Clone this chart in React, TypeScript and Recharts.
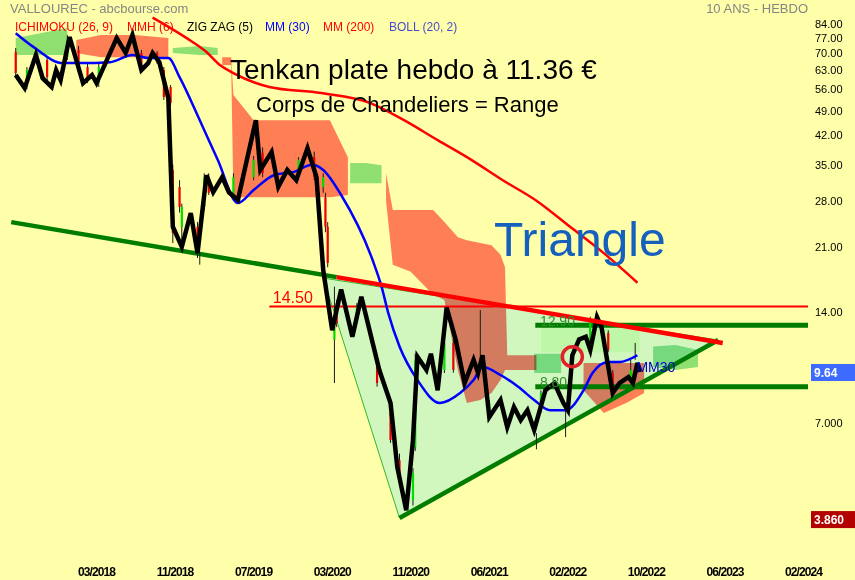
import React from 'react';
import { ComposedChart, Line, Area, XAxis, YAxis, CartesianGrid, ReferenceLine, ReferenceDot } from 'recharts';

// axes
const xTickWeeks = [0, 35, 70, 105, 140, 175, 210, 245, 280, 315];
const xTickLabels = ['03/2018', '11/2018', '07/2019', '03/2020', '11/2020', '06/2021', '02/2022', '10/2022', '06/2023', '02/2024'];
const yTicks = [84, 77, 70, 63, 56, 49, 42, 35, 28, 21, 14, 7];

// zig zag (5) pivots, weeks from 03/2018
const zzWeeks = [-36, -32, -27, -24, -20, -18, -16, -12, -6, -2, 0, 9, 13, 16, 20, 23, 25, 28, 32, 34, 38, 42, 45, 49, 52, 56, 59, 63, 67, 71, 73, 78, 81, 85, 89, 94, 98, 101, 105, 109, 114, 118, 126, 131, 134, 138, 141, 143, 147, 149, 152, 156, 160, 164, 168, 170, 172, 175, 180, 183, 186, 189, 192, 195, 200, 204, 208, 210, 212, 215, 218, 220, 223, 225, 230, 233, 237, 239, 241, 242];
const zzValues = [61.2, 56.4, 69.3, 60.0, 56.8, 63.1, 59.3, 77.5, 58.2, 61.2, 58.2, 77.0, 70.2, 78.5, 63.1, 65.9, 70.2, 66.3, 53.0, 23.8, 21.0, 25.9, 20.2, 32.8, 29.5, 32.4, 29.5, 28.1, 36.1, 46.2, 33.9, 37.9, 30.5, 33.9, 31.8, 38.8, 32.4, 18.2, 12.5, 16.1, 12.0, 15.4, 9.76, 7.95, 5.34, 4.08, 6.31, 10.6, 9.76, 10.8, 8.6, 14.4, 11.8, 9.0, 10.4, 9.58, 10.7, 7.28, 8.1, 6.84, 7.75, 7.15, 7.6, 6.72, 8.6, 9.0, 7.95, 7.6, 10.7, 11.8, 12.0, 11.06, 13.57, 12.75, 8.46, 9.0, 9.34, 9.0, 10.2, 9.64];

// weekly candles that show beside the zig zag
const candleWeeks = [-36, -31, -22, -13, -8, -4, 1, 20, 27, 30, 33, 34, 37, 38, 45, 48, 50, 61, 70, 74, 90, 97, 101, 102, 103, 106, 107, 116, 125, 131, 135, 141, 142, 155, 159, 175, 198, 211, 220, 228, 230, 238];
const candleOpen = [70.6, 56.8, 67.2, 68.4, 71.5, 64.3, 58.2, 70.2, 70.2, 63.1, 56.8, 33.9, 30.5, 23.8, 23.8, 26.9, 32.4, 28.6, 32.4, 37.7, 32.4, 36.7, 30.5, 28.6, 23.8, 11.8, 14.8, 13.32, 10.4, 7.47, 5.57, 4.35, 6.04, 9.76, 11.55, 7.28, 7.6, 8.6, 11.3, 12.28, 9.58, 9.17];
const candleClose = [62.0, 63.1, 60.4, 76.1, 63.1, 59.3, 64.3, 63.1, 66.3, 53.4, 51.4, 22.9, 26.9, 26.9, 20.6, 32.4, 29.4, 32.4, 36.1, 33.2, 36.1, 32.4, 32.4, 23.8, 19.0, 12.75, 13.07, 14.44, 9.0, 6.31, 5.01, 5.14, 10.4, 11.55, 9.76, 7.95, 8.46, 9.76, 13.32, 11.06, 8.6, 9.76];
const candleHigh = [72.4, 64.3, 68.4, 78.5, 73.3, 65.9, 65.9, 71.5, 71.0, 64.3, 57.5, 35.0, 31.8, 27.5, 24.5, 33.2, 33.2, 33.2, 37.0, 39.0, 36.7, 38.0, 33.2, 29.4, 24.5, 16.4, 15.1, 14.8, 10.7, 7.6, 5.8, 5.3, 10.8, 12.0, 11.8, 8.1, 8.6, 10.0, 13.6, 12.5, 9.76, 10.4];
const candleLow = [60.4, 56.0, 59.3, 67.2, 62.0, 58.2, 56.8, 62.0, 65.5, 52.4, 50.5, 21.5, 26.0, 21.5, 19.6, 26.4, 29.0, 28.0, 31.8, 32.4, 31.8, 31.8, 29.4, 23.0, 18.5, 9.0, 12.75, 13.07, 8.8, 6.2, 4.9, 4.2, 5.9, 9.58, 9.6, 7.15, 7.47, 8.46, 11.06, 10.9, 8.46, 9.0];
const wickWeeks = [171, 209, 240, 196, 46];
const wickHigh = [14.17, 7.6, 11.55, 6.59, 20.2];
const wickLow = [9.76, 6.43, 10.4, 5.96, 18.8];

// MM (30)
const mm30Weeks = [-36, -28, -15, -7, 6, 16, 23, 32, 37, 46, 54, 63, 70, 79, 88, 96, 101, 109, 123, 127, 130, 135, 143, 153, 162, 168, 172, 180, 188, 195, 202, 209, 217, 221, 228, 233, 241];
const mm30Values = [79.4, 72.8, 65.9, 65.9, 66.3, 69.3, 68.0, 68.0, 60.4, 46.2, 36.1, 27.6, 29.9, 32.8, 33.5, 35.0, 33.9, 29.0, 19.35, 16.4, 13.9, 11.3, 9.17, 7.95, 8.46, 9.17, 9.94, 9.46, 8.78, 8.1, 7.6, 7.6, 8.6, 9.58, 10.26, 10.26, 10.7];

// MM (200)
const mm200Weeks = [25, 40, 49, 55, 61, 77, 100, 122, 137, 152, 167, 181, 196, 211, 226, 241];
const mm200Values = [87.5, 77.1, 70.6, 65.1, 61.9, 56.8, 54.7, 51.4, 46.2, 40.8, 36.1, 31.8, 28.0, 23.8, 20.2, 16.8];

// ichimoku cloud pieces (weeks, low edge, high edge)
const g1Weeks = [-36, -25, -13];
const g1Low = [69.3, 69.3, 69.3];
const g1High = [77.0, 79.4, 82.0];
const r1Weeks = [-9, 2, 17, 32];
const r1Low = [70.2, 68.4, 68.4, 68.4];
const r1High = [76.1, 78.5, 78.5, 77.0];
const g2Weeks = [34, 46, 54];
const g2Low = [70.2, 69.3, 69.3];
const g2High = [72.4, 73.3, 72.4];
const r2Weeks = [56, 60, 61, 70, 104, 112];
const r2Low = [65.1, 65.1, 28.6, 28.6, 28.6, 29.0];
const r2High = [68.4, 68.4, 54.0, 46.2, 46.2, 36.7];
const g3Weeks = [113, 120, 127];
const g3Low = [31.2, 31.2, 31.2];
const g3High = [35.4, 35.4, 34.9];
const r3Weeks = [129, 132, 140, 150, 155, 161, 165, 171, 176, 180, 182, 183, 196];
const r3Low = [28.0, 18.8, 18.0, 15.6, 15.1, 9.76, 7.95, 8.1, 8.46, 9.17, 9.76, 9.76, 9.76];
const r3High = [33.2, 26.4, 26.4, 26.4, 24.5, 22.3, 21.9, 21.5, 21.2, 20.0, 18.5, 10.7, 10.7];
const g4Weeks = [195, 207];
const g4Low = [9.58, 9.58];
const g4High = [10.8, 10.8];
const lgWeeks = [198, 242];
const lgLow = [10.9, 10.9];
const lgHigh = [12.75, 12.75];
const r5Weeks = [217, 226, 236, 244];
const r5Low = [8.6, 7.47, 7.95, 8.46];
const r5High = [10.2, 10.2, 10.2, 10.2];
const g5Weeks = [248, 258, 268];
const g5Low = [9.94, 9.76, 9.94];
const g5High = [11.3, 11.4, 11.06];

// triangle
const triWeeks = [101, 135, 277];
const triLow = [17.3, 3.885, 11.76];
const triHigh = [17.3, 16.0, 11.76];
const longGreenWeeks = [-38, 107];
const longGreenValues = [24.5, 17.4];
const redTopWeeks = [107, 279];
const redTopValues = [17.4, 11.55];
const greenBottomWeeks = [135, 277];
const greenBottomValues = [3.885, 11.76];
const edgeTopWeeks = [101, 277];
const edgeTopValues = [17.3, 11.76];
const edgeLeftWeeks = [101, 135];
const edgeLeftValues = [17.3, 3.885];

// levels
const level1450Weeks = [77, 317];
const level1290Weeks = [195.5, 317];
const level880Weeks = [195.5, 317];
const lastClose = 9.64;
const periodLow = 3.86;

const pts = (w: number[], v: number[]) => w.map((x, i) => ({ w: x, v: v[i] }));
const flat = (w: number[], value: number) => w.map((x) => ({ w: x, v: value }));
const band = (w: number[], lo: number[], hi: number[]) => w.map((x, i) => ({ w: x, r: [lo[i], hi[i]] }));
// vertical pieces separated by gaps, for candle bodies and wicks
const sticks = (w: number[], a: number[], b: number[], keep: (i: number) => boolean) =>
  w.flatMap((x, i) => (keep(i) ? [{ w: x, v: a[i] }, { w: x, v: b[i] }, { w: x, v: null }] : []));

const redBodies = sticks(candleWeeks, candleOpen, candleClose, (i) => candleClose[i] < candleOpen[i]);
const greenBodies = sticks(candleWeeks, candleOpen, candleClose, (i) => candleClose[i] >= candleOpen[i]);
const wicks = [
  ...sticks(candleWeeks, candleLow, candleHigh, () => true),
  ...sticks(wickWeeks, wickLow, wickHigh, () => true),
];

const SALMON = '#FF7F7F';
const CLOUD_GREEN = '#90E0A8';
const DARK_GREEN = '#007D00';

const cloudPieces = [
  { key: 'g1', data: band(g1Weeks, g1Low, g1High), fill: CLOUD_GREEN },
  { key: 'r1', data: band(r1Weeks, r1Low, r1High), fill: SALMON },
  { key: 'g2', data: band(g2Weeks, g2Low, g2High), fill: CLOUD_GREEN },
  { key: 'r2', data: band(r2Weeks, r2Low, r2High), fill: SALMON },
  { key: 'g3', data: band(g3Weeks, g3Low, g3High), fill: CLOUD_GREEN },
  { key: 'r3', data: band(r3Weeks, r3Low, r3High), fill: SALMON },
  { key: 'lg', data: band(lgWeeks, lgLow, lgHigh), fill: '#E6FFE1' },
  { key: 'g4', data: band(g4Weeks, g4Low, g4High), fill: CLOUD_GREEN },
  { key: 'r5', data: band(r5Weeks, r5Low, r5High), fill: SALMON },
  { key: 'g5', data: band(g5Weeks, g5Low, g5High), fill: CLOUD_GREEN },
];

const TextLabel = (props: any) => {
  const { viewBox, text, color, size, dy = 0 } = props;
  if (!viewBox) return null;
  return (
    <text x={viewBox.x} y={viewBox.y + dy} fill={color} fontSize={size} fontFamily="'Liberation Sans', Arial, sans-serif">
      {text}
    </text>
  );
};

const AxisBox = (props: any) => {
  const { viewBox, text, bg } = props;
  if (!viewBox) return null;
  const x = viewBox.x + viewBox.width + 3;
  return (
    <g>
      <rect x={x} y={viewBox.y - 8} width={44} height={17} fill={bg} />
      <text x={x + 3} y={viewBox.y + 5} fill="#fff" fontSize={12} fontWeight="bold" fontFamily="'Liberation Sans', Arial, sans-serif">
        {text}
      </text>
    </g>
  );
};

const legendItems = [
  { text: 'ICHIMOKU (26, 9)', color: '#FF0000', left: 15 },
  { text: 'MMH (6)', color: '#FF0000', left: 127 },
  { text: 'ZIG ZAG (5)', color: '#000000', left: 187 },
  { text: 'MM (30)', color: '#0000FF', left: 265 },
  { text: 'MM (200)', color: '#FF0000', left: 323 },
  { text: 'BOLL (20, 2)', color: '#4A4ACF', left: 389 },
];

export default function App() {
  const font = "'Liberation Sans', Arial, sans-serif";
  const plain = { dot: false, activeDot: false, isAnimationActive: false, type: 'linear' as const };
  return (
    <div style={{ position: 'relative', width: 855, height: 580, background: '#FFFFAA', fontFamily: font, overflow: 'hidden' }}>
      <style>{'body{margin:0} .cloud{mix-blend-mode:multiply}'}</style>
      <ComposedChart width={855} height={580} margin={{ top: 0, right: 0, bottom: 0, left: 0 }}>
        <CartesianGrid horizontal={false} vertical={false} fill="#FFFFAA" />
        <XAxis
          dataKey="w"
          type="number"
          domain={[-43, 317]}
          allowDataOverflow
          ticks={xTickWeeks}
          interval={0}
          tickFormatter={(v: number) => xTickLabels[xTickWeeks.indexOf(v)] ?? ''}
          height={35}
          tickLine={false}
          axisLine={false}
          tickSize={0}
          tickMargin={22}
          tick={{ fontSize: 12, fill: '#000', fontFamily: font, fontWeight: 'bold', letterSpacing: -0.9 }}
        />
        <YAxis
          dataKey="v"
          orientation="right"
          scale="log"
          type="number"
          domain={[3.285, 97.6]}
          allowDataOverflow
          ticks={yTicks}
          interval={0}
          width={47}
          tickLine={false}
          axisLine={false}
          tickSize={0}
          tickMargin={7}
          tickFormatter={(v: number) => (v === 7 ? '7.000' : v.toFixed(2))}
          tick={{ fontSize: 11, fill: '#000', fontFamily: font, textAnchor: 'start' }}
        />

        <Area data={band(triWeeks, triLow, triHigh)} dataKey="r" type="linear" fill="#D2F7BE" fillOpacity={1} stroke="none" isAnimationActive={false} />
        {cloudPieces.map((c) => (
          <Area key={c.key} className="cloud" data={c.data} dataKey="r" type="linear" fill={c.fill} fillOpacity={1} stroke="none" isAnimationActive={false} />
        ))}

        <Line {...plain} data={pts(edgeTopWeeks, edgeTopValues)} dataKey="v" stroke="#2DB82D" strokeWidth={1} />
        <Line {...plain} data={pts(edgeLeftWeeks, edgeLeftValues)} dataKey="v" stroke="#2DB82D" strokeWidth={1} />
        <Line {...plain} data={flat(level1450Weeks, 14.5)} dataKey="v" stroke="#FF0000" strokeWidth={2} />
        <Line {...plain} data={flat(level1290Weeks, 12.9)} dataKey="v" stroke={DARK_GREEN} strokeWidth={5} />
        <Line {...plain} data={flat(level880Weeks, 8.8)} dataKey="v" stroke={DARK_GREEN} strokeWidth={5} />
        <Line {...plain} data={pts(longGreenWeeks, longGreenValues)} dataKey="v" stroke={DARK_GREEN} strokeWidth={4.5} />
        <Line {...plain} data={pts(greenBottomWeeks, greenBottomValues)} dataKey="v" stroke={DARK_GREEN} strokeWidth={4.5} />
        <Line {...plain} data={wicks} dataKey="v" stroke="#1A1A1A" strokeWidth={1} />
        <Line {...plain} data={redBodies} dataKey="v" stroke="#EE0000" strokeWidth={2.2} />
        <Line {...plain} data={greenBodies} dataKey="v" stroke="#00DD00" strokeWidth={2.2} />
        <Line {...plain} data={pts(mm200Weeks, mm200Values)} dataKey="v" type="monotone" stroke="#FF0000" strokeWidth={2.5} />
        <Line {...plain} data={pts(mm30Weeks, mm30Values)} dataKey="v" type="monotone" stroke="#0000FF" strokeWidth={2.5} />
        <Line {...plain} data={pts(zzWeeks, zzValues)} dataKey="v" stroke="#000000" strokeWidth={4.5} />
        <Line {...plain} data={pts(redTopWeeks, redTopValues)} dataKey="v" stroke="#FF0000" strokeWidth={4.5} />

        <ReferenceDot x={212} y={10.6} r={10} fill="none" stroke="#E0202A" strokeWidth={3.5} />
        <ReferenceDot x={79} y={14.5} r={1} fill="none" stroke="none" label={<TextLabel text="14.50" color="#FF0000" size={16} dy={-2} />} />
        <ReferenceDot x={198} y={12.9} r={1} fill="none" stroke="none" label={<TextLabel text="12.90" color="#2E8F2E" size={14} dy={2} />} />
        <ReferenceDot x={198} y={8.8} r={1} fill="none" stroke="none" label={<TextLabel text="8.80" color="#2E8F2E" size={14} dy={1} />} />
        <ReferenceDot x={241} y={9.58} r={1} fill="none" stroke="none" label={<TextLabel text="MM30" color="#0000CC" size={14} dy={0} />} />
        <ReferenceLine y={lastClose} stroke="none" label={<AxisBox text="9.64" bg="#3D6BFF" />} />
        <ReferenceLine y={periodLow} stroke="none" label={<AxisBox text="3.860" bg="#B30000" />} />
      </ComposedChart>

      <div style={{ position: 'absolute', left: 10, top: 1, fontSize: 13, color: '#858585' }}>VALLOUREC - abcbourse.com</div>
      <div style={{ position: 'absolute', right: 47, top: 1, fontSize: 13, color: '#858585' }}>10 ANS - HEBDO</div>
      {legendItems.map((it) => (
        <div key={it.text} style={{ position: 'absolute', left: it.left, top: 20, fontSize: 12, color: it.color, whiteSpace: 'nowrap' }}>
          {it.text}
        </div>
      ))}
      <div style={{ position: 'absolute', left: 230, top: 54, fontSize: 28, color: '#000', whiteSpace: 'nowrap' }}>Tenkan plate hebdo à 11.36 €</div>
      <div style={{ position: 'absolute', left: 256, top: 92, fontSize: 22, color: '#000', whiteSpace: 'nowrap' }}>Corps de Chandeliers = Range</div>
      <div style={{ position: 'absolute', left: 494, top: 212, fontSize: 48, color: '#1560BD', whiteSpace: 'nowrap' }}>Triangle</div>
    </div>
  );
}
